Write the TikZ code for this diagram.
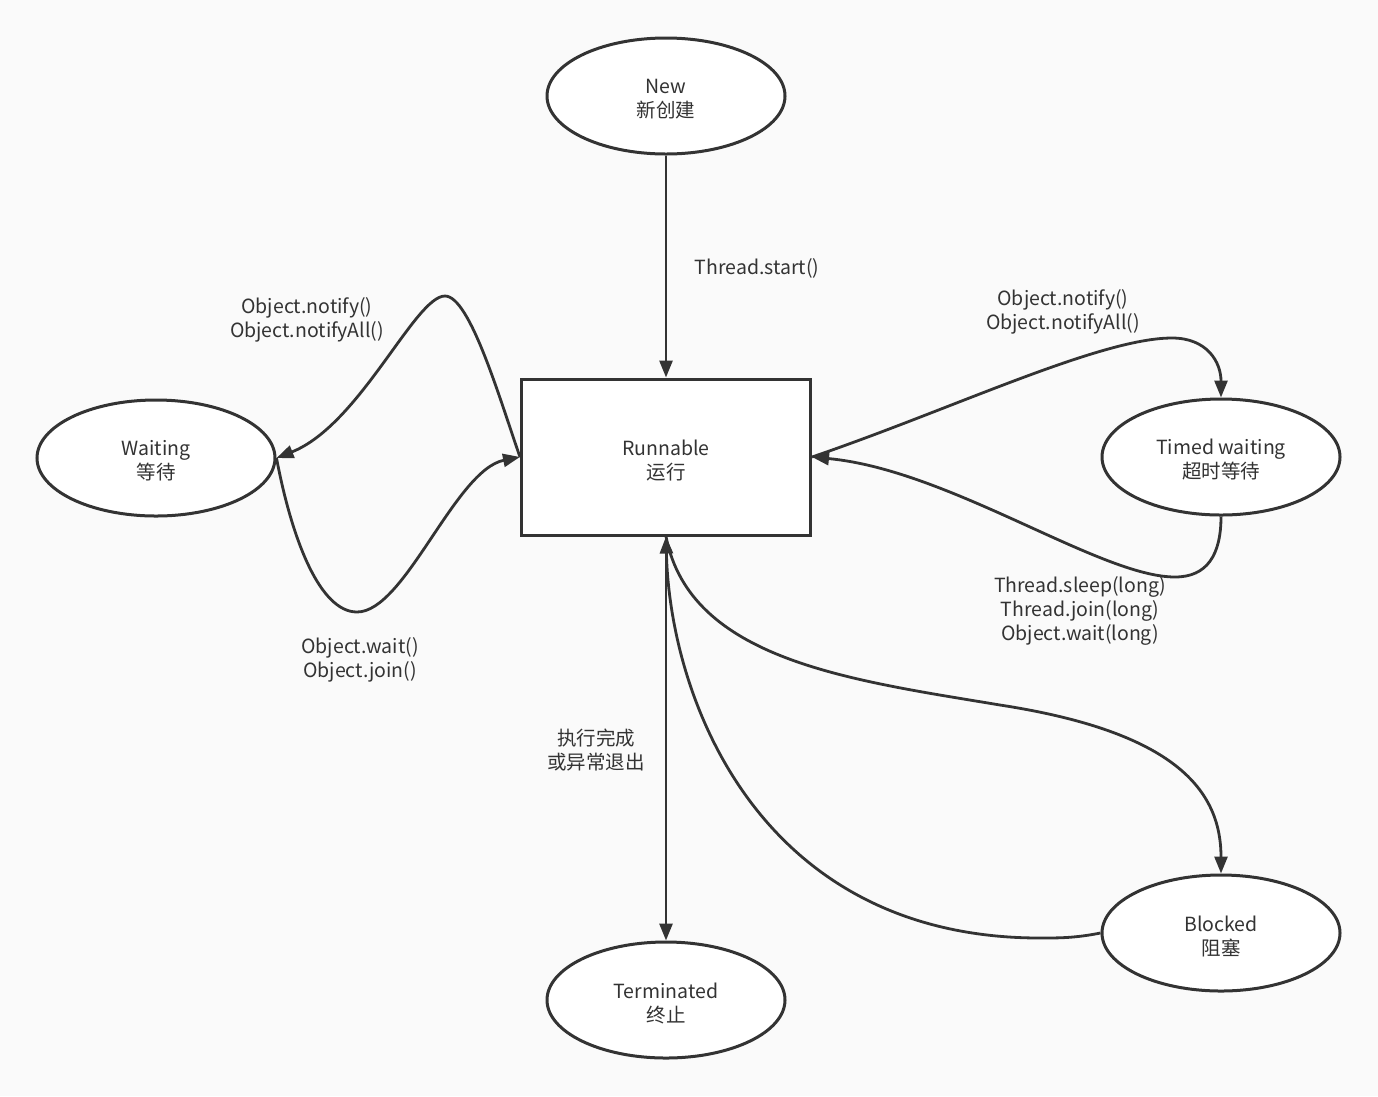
\documentclass[tikz,border=0pt]{standalone}
\usepackage{fontspec}
\setmainfont{Noto Sans CJK SC}
\usetikzlibrary{shapes.geometric,arrows.meta}
\definecolor{ink}{HTML}{333333}
\definecolor{bg}{HTML}{FAFAFA}
\tikzset{
  txt/.style={text=ink,font=\fontsize{19.5}{24}\selectfont},
  state/.style={txt,ellipse,draw=ink,fill=white,line width=3pt,minimum width=238pt,minimum height=116pt,inner sep=0pt,align=center},
  boxstate/.style={txt,rectangle,draw=ink,fill=white,line width=3pt,minimum width=289pt,minimum height=156pt,inner sep=0pt,align=center},
  conn/.style={draw=ink,line width=2.8pt,-{Triangle[length=17pt,width=13pt]}},
  lbl/.style={txt,align=center,inner sep=0pt}
}
\begin{document}
\begin{tikzpicture}[x=1pt,y=-1pt]
\fill[bg] (0,0) rectangle (1378,1096);
\useasboundingbox (0,0) rectangle (1378,1096);
\node[state] (new) at (666,96) {};
\node[txt,align=center] (newt) at (666,99) {New\\新创建};
\node[boxstate] (run) at (666,457) {};
\node[txt,align=center] (runt) at (666,461) {Runnable\\运行};
\node[state] (wait) at (156,458) {};
\node[txt,align=center] (waitt) at (156,461) {Waiting\\等待};
\node[state] (timed) at (1221,457) {};
\node[txt,align=center] (timedt) at (1221,460) {Timed waiting\\超时等待};
\node[state] (blocked) at (1221,933) {};
\node[txt,align=center] (blockedt) at (1221,936) {Blocked\\阻塞};
\node[state] (term) at (666,1000) {};
\node[txt,align=center] (termt) at (666,1003) {Terminated\\终止};

\draw[conn] (new.south) -- (run.north);
\draw[conn] (run.south) -- (term.north);

\draw[conn] (run.west) .. controls (500,400) and (470,296) .. (445,296)
  .. controls (415,296) and (360,425) .. (wait.east);
\draw[conn] (wait.east) .. controls (292,540) and (320,612) .. (357,612)
  .. controls (405,612) and (455,470) .. (run.west);

\draw[conn] (run.east) .. controls (950,410) and (1100,338) .. (1172,338)
  .. controls (1207,338) and (1221,362) .. (timed.north);
\draw[conn] (timed.south) .. controls (1221,555) and (1207,577) .. (1175,577)
  .. controls (1100,577) and (950,470) .. (run.east);

\draw[conn] (run.south) .. controls (690,660) and (850,680) .. (1000,705)
  .. controls (1175,732) and (1221,790) .. (blocked.north);
\draw[conn] (blocked.west) .. controls (1075,938) and (1060,938) .. (1040,938)
  .. controls (760,938) and (670,700) .. (run.south);

\node[lbl] (l1) at (757,268) {Thread.start()};
\node[lbl] (l2) at (307,320) {Object.notify()\\Object.notifyAll()};
\node[lbl] (l3) at (360,660) {Object.wait()\\Object.join()};
\node[lbl] (l4) at (1063,312) {Object.notify()\\Object.notifyAll()};
\node[lbl] (l5) at (1080,611) {Thread.sleep(long)\\Thread.join(long)\\Object.wait(long)};
\node[lbl] (l6) at (596,750) {执行完成\\或异常退出};
\end{tikzpicture}
\end{document}
